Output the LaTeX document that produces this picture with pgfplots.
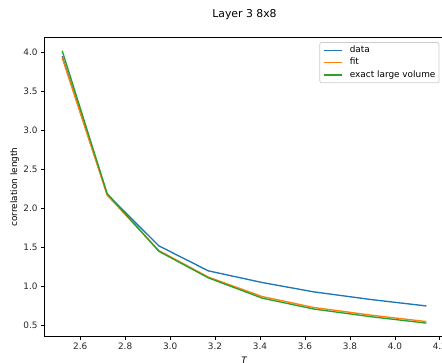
\documentclass[border=0pt]{standalone}
\usepackage{fontspec}
\setmainfont{DejaVu Sans}
\usepackage{pgfplots}
\pgfplotsset{compat=1.18}
\definecolor{tabblue}{HTML}{1F77B4}
\definecolor{taborange}{HTML}{FF7F0E}
\definecolor{tabgreen}{HTML}{2CA02C}
\begin{document}
\begin{tikzpicture}
\begin{axis}[
  scale only axis,
  width=401pt, height=299.6pt,
  xmin=2.439, xmax=4.223,
  ymin=0.356, ymax=4.195,
  xtick={2.6,2.8,3.0,3.2,3.4,3.6,3.8,4.0,4.2},
  ytick={0.5,1.0,1.5,2.0,2.5,3.0,3.5,4.0},
  xticklabel style={/pgf/number format/.cd,fixed,fixed zerofill,precision=1},
  yticklabel style={/pgf/number format/.cd,fixed,fixed zerofill,precision=1},
  /pgf/number format/assume math mode=true,
  tick label style={font=\fontsize{8.9pt}{10.7pt}\selectfont, text=black!85, inner sep=3.1pt},
  xtick pos=bottom, ytick pos=left,
  tick align=outside,
  major tick length=3.1pt,
  axis line style={line width=0.75pt},
  every tick/.style={line width=0.75pt, black},
  title={Layer 3 8x8},
  title style={font=\fontsize{10.85pt}{13pt}\selectfont, at={(axis description cs:0.5,1)}, anchor=base, yshift=14pt, inner sep=0pt},
  xlabel={\textit{T}},
  xlabel style={at={(axis description cs:0.5,0)}, anchor=base, yshift=-26.5pt, inner sep=0pt},
  ylabel={correlation length},
  ylabel style={at={(axis description cs:-0.0673,0.5)}, anchor=base, inner sep=0pt},
  label style={font=\fontsize{8.9pt}{10.7pt}\selectfont},
  legend style={at={(1,1)}, anchor=north east, xshift=-5.6pt, yshift=-5pt,
    draw=black!20, line width=0.75pt, rounded corners=2pt, fill=white, fill opacity=0.8, text opacity=1,
    font=\fontsize{8.9pt}{10.7pt}\selectfont, inner xsep=3.6pt, inner ysep=3.6pt,
    nodes={inner sep=0pt, text height=6.6pt, text depth=1.9pt},
    row sep=3.8pt, column sep=7.1pt},
  legend cell align=left,
  legend image code/.code={\draw[#1, line width=1.35pt] (0pt,0pt) -- (18pt,0pt);},
]
\addplot[tabblue, line width=1.35pt] coordinates {
(2.52,3.95) (2.72,2.18) (2.95,1.52) (3.17,1.20) (3.41,1.05) (3.64,0.93) (3.90,0.83) (4.14,0.75)};
\addlegendentry{data}
\addplot[taborange, line width=1.35pt] coordinates {
(2.52,3.93) (2.72,2.17) (2.95,1.46) (3.17,1.12) (3.41,0.87) (3.64,0.73) (3.90,0.63) (4.14,0.55)};
\addlegendentry{fit}
\addplot[tabgreen, line width=1.35pt] coordinates {
(2.52,4.02) (2.72,2.19) (2.95,1.45) (3.17,1.11) (3.41,0.85) (3.64,0.71) (3.90,0.61) (4.14,0.53)};
\addlegendentry{exact large volume}
\end{axis}
\pgfresetboundingbox
\path[use as bounding box] (-44pt,-25.3pt) rectangle (398pt,336.7pt);
\end{tikzpicture}
\end{document}
